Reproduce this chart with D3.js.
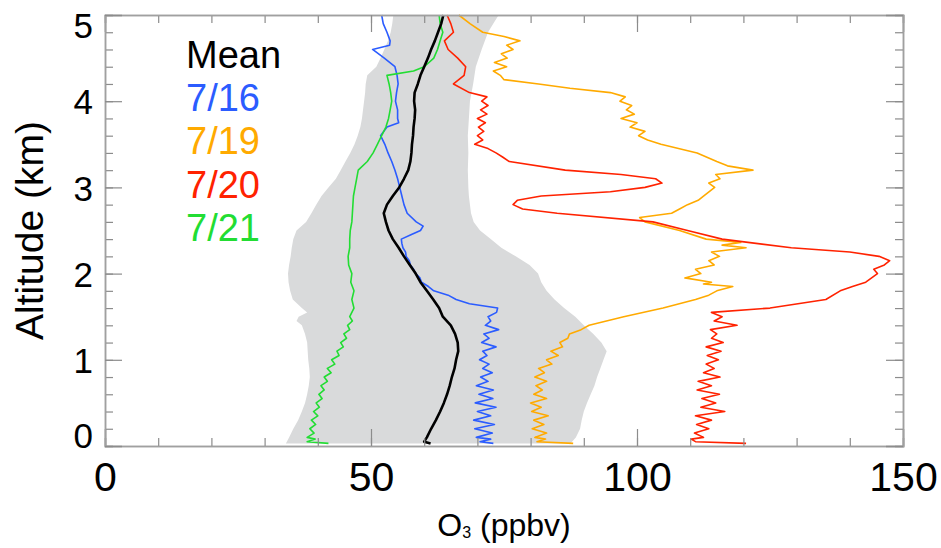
<!DOCTYPE html>
<html>
<head>
<meta charset="utf-8">
<title>O3 profiles</title>
<script src="https://cdnjs.cloudflare.com/ajax/libs/d3/7.8.5/d3.min.js"></script>
<style>
    body { margin: 0; background: #fff; }
    text { font-family: "Liberation Sans", Arial, Helvetica, sans-serif; }
    .frame path.domain { stroke: #a0a0a0; stroke-width: 1.5; }
    .frame .tick line { stroke: #8c8c8c; stroke-width: 1.2; }
</style>
</head>
<body>
<svg id="chart" width="941" height="548"></svg>
<script>
// ---- data: [altitude km, O3 ppbv] ----
var bandLow = [
    [0.03, 34.0], [0.1, 34.6], [0.2, 35.4], [0.3, 36.3], [0.4, 37.0], [0.5, 37.6], [0.6, 38.0],
    [0.7, 38.3], [0.8, 38.5], [0.9, 38.4], [1.0, 38.2], [1.1, 38.1], [1.2, 38.0], [1.3, 37.6],
    [1.4, 37.0], [1.45, 36.0], [1.5, 36.4], [1.55, 38.0], [1.6, 37.0], [1.7, 35.3], [1.8, 34.8],
    [1.9, 34.5], [2.0, 34.4], [2.1, 34.6], [2.2, 34.9], [2.3, 35.1], [2.4, 35.4], [2.5, 36.0],
    [2.6, 37.8], [2.7, 38.8], [2.8, 39.7], [2.9, 40.7], [3.0, 42.0], [3.1, 43.4], [3.2, 44.3],
    [3.3, 45.2], [3.4, 46.1], [3.5, 46.9], [3.6, 47.5], [3.7, 48.0], [3.8, 48.3], [3.9, 48.5],
    [4.0, 48.7], [4.1, 48.9], [4.2, 49.0], [4.3, 49.3], [4.4, 51.0], [4.5, 51.8], [4.6, 52.5],
    [4.7, 53.2], [4.8, 53.7], [4.9, 54.0], [5.0, 54.2]
];
var bandHigh = [
    [0.03, 87.5], [0.1, 88.5], [0.2, 89.3], [0.3, 89.6], [0.4, 90.0], [0.5, 90.6], [0.6, 91.3],
    [0.7, 92.0], [0.8, 92.5], [0.9, 93.1], [1.0, 93.7], [1.1, 94.3], [1.2, 93.3], [1.3, 91.8],
    [1.4, 90.0], [1.5, 88.4], [1.6, 86.3], [1.7, 84.5], [1.8, 83.0], [1.9, 82.0], [2.0, 81.4],
    [2.1, 79.8], [2.2, 77.2], [2.3, 74.5], [2.4, 72.5], [2.5, 70.5], [2.6, 69.3], [2.7, 68.8],
    [2.8, 68.6], [2.9, 68.4], [3.0, 68.3], [3.2, 68.2], [3.4, 68.3], [3.6, 68.2], [3.8, 68.4],
    [4.0, 68.6], [4.2, 69.2], [4.4, 69.7], [4.6, 70.8], [4.8, 72.0], [4.9, 73.0], [5.0, 74.0]
];
var mean = [
    [0.03, 61.2], [0.05, 60.0], [0.1, 60.5], [0.2, 61.3], [0.3, 62.2], [0.4, 63.0], [0.5, 63.7],
    [0.6, 64.3], [0.7, 64.8], [0.8, 65.2], [0.9, 65.7], [1.0, 66.0], [1.1, 66.4], [1.2, 66.3],
    [1.3, 65.8], [1.4, 65.0], [1.5, 63.5], [1.6, 62.8], [1.7, 61.7], [1.8, 60.5], [1.9, 59.3],
    [2.0, 58.4], [2.1, 57.3], [2.2, 56.2], [2.3, 55.2], [2.4, 54.1], [2.5, 53.3], [2.6, 52.8],
    [2.7, 52.4], [2.8, 53.0], [2.9, 54.1], [3.0, 55.3], [3.1, 56.2], [3.2, 57.0], [3.3, 57.4],
    [3.4, 57.6], [3.5, 57.7], [3.6, 57.9], [3.7, 58.0], [3.8, 58.2], [3.9, 58.3], [4.0, 58.1],
    [4.1, 58.2], [4.2, 58.8], [4.3, 59.3], [4.4, 60.0], [4.5, 60.7], [4.6, 61.3], [4.7, 62.0],
    [4.8, 62.6], [4.9, 63.2], [5.0, 63.6]
];
var jul16 = [
    [0.03, 73.0], [0.05, 70.5], [0.08, 72.5], [0.1, 69.8], [0.15, 72.8], [0.2, 69.5], [0.25, 73.2],
    [0.3, 69.3], [0.35, 72.5], [0.4, 70.0], [0.45, 73.5], [0.5, 69.6], [0.55, 72.9], [0.6, 70.3],
    [0.65, 73.0], [0.7, 69.8], [0.75, 72.0], [0.8, 70.6], [0.85, 72.8], [0.9, 71.0], [0.95, 72.2],
    [1.0, 70.4], [1.05, 71.8], [1.1, 71.0], [1.15, 73.5], [1.2, 70.8], [1.25, 72.2], [1.3, 71.2],
    [1.35, 74.0], [1.4, 71.5], [1.45, 72.5], [1.5, 72.0], [1.55, 73.6], [1.6, 73.8], [1.65, 68.5],
    [1.7, 66.0], [1.75, 64.5], [1.8, 61.8], [1.85, 60.8], [1.9, 59.5], [1.95, 59.2], [2.0, 58.4],
    [2.05, 58.0], [2.1, 57.4], [2.15, 57.2], [2.2, 56.6], [2.25, 56.5], [2.3, 56.0], [2.35, 55.8],
    [2.4, 55.7], [2.45, 57.5], [2.5, 59.3], [2.55, 59.8], [2.6, 58.5], [2.7, 56.8], [2.8, 56.2],
    [2.9, 55.8], [3.0, 55.4], [3.1, 55.0], [3.2, 54.5], [3.3, 53.9], [3.4, 53.2], [3.5, 52.6],
    [3.6, 51.8], [3.7, 53.0], [3.75, 55.2], [3.8, 55.0], [3.9, 55.0], [4.0, 54.6], [4.1, 54.8],
    [4.2, 55.1], [4.3, 54.9], [4.4, 54.5], [4.5, 52.5], [4.6, 50.3], [4.65, 53.5], [4.7, 53.6],
    [4.8, 53.0], [4.9, 52.3], [5.0, 52.0]
];
var jul19 = [
    [0.03, 88.0], [0.05, 81.2], [0.08, 82.8], [0.1, 80.8], [0.15, 83.0], [0.2, 80.3], [0.25, 82.5],
    [0.3, 80.6], [0.35, 83.3], [0.4, 80.2], [0.45, 82.0], [0.5, 80.0], [0.55, 83.0], [0.6, 80.6],
    [0.65, 82.2], [0.7, 81.0], [0.75, 83.0], [0.8, 80.8], [0.85, 82.6], [0.9, 81.5], [0.95, 84.0],
    [1.0, 83.0], [1.05, 85.2], [1.1, 83.8], [1.15, 86.0], [1.2, 85.5], [1.25, 87.0], [1.3, 87.3],
    [1.35, 89.5], [1.4, 91.0], [1.5, 97.5], [1.6, 104.9], [1.7, 111.0], [1.75, 113.5],
    [1.8, 115.0], [1.85, 118.0], [1.88, 112.5], [1.9, 114.0], [1.95, 109.0], [2.0, 112.0],
    [2.05, 111.0], [2.1, 114.5], [2.15, 113.5], [2.2, 115.5], [2.25, 114.0], [2.3, 120.5],
    [2.33, 116.0], [2.36, 119.5], [2.4, 113.0], [2.5, 108.0], [2.6, 101.5], [2.65, 100.5],
    [2.7, 106.5], [2.75, 108.0], [2.8, 109.5], [2.85, 111.5], [2.9, 112.5], [3.0, 114.6],
    [3.05, 113.5], [3.1, 115.6], [3.15, 114.8], [3.2, 121.8], [3.25, 117.0], [3.3, 115.0],
    [3.4, 111.3], [3.5, 104.5], [3.55, 102.0], [3.6, 100.3], [3.65, 101.5], [3.7, 98.7],
    [3.75, 100.0], [3.8, 97.0], [3.85, 99.5], [3.9, 98.0], [3.95, 99.0], [4.0, 96.8], [4.05, 97.8],
    [4.1, 95.0], [4.15, 87.4], [4.2, 81.5], [4.25, 75.0], [4.3, 74.3], [4.35, 73.0], [4.4, 75.5],
    [4.45, 73.2], [4.5, 75.6], [4.55, 74.5], [4.6, 76.7], [4.65, 75.5], [4.7, 78.0], [4.75, 75.0],
    [4.8, 71.0], [4.9, 68.6], [5.0, 66.5]
];
var jul20 = [
    [0.03, 120.5], [0.05, 111.0], [0.08, 110.2], [0.1, 112.5], [0.15, 110.8], [0.2, 113.5],
    [0.25, 111.2], [0.3, 114.0], [0.35, 111.0], [0.4, 116.5], [0.45, 112.0], [0.5, 114.8],
    [0.55, 112.2], [0.6, 115.5], [0.65, 111.3], [0.7, 114.0], [0.75, 111.5], [0.8, 115.6],
    [0.85, 112.5], [0.9, 114.5], [0.95, 113.0], [1.0, 115.3], [1.05, 113.2], [1.1, 115.8],
    [1.15, 113.0], [1.2, 116.2], [1.25, 114.0], [1.3, 115.0], [1.35, 113.8], [1.4, 118.8],
    [1.45, 114.5], [1.5, 116.0], [1.55, 114.0], [1.6, 125.0], [1.7, 135.5], [1.8, 138.2],
    [1.85, 140.5], [1.9, 143.0], [2.0, 145.2], [2.05, 144.5], [2.1, 146.5], [2.15, 147.5],
    [2.2, 145.5], [2.25, 140.0], [2.3, 129.0], [2.4, 116.0], [2.5, 109.5], [2.6, 103.0],
    [2.7, 85.0], [2.75, 78.5], [2.8, 76.7], [2.85, 77.5], [2.9, 82.0], [2.95, 95.0], [3.0, 101.5],
    [3.05, 104.7], [3.1, 103.5], [3.15, 97.0], [3.2, 86.5], [3.3, 76.0], [3.35, 74.8], [3.4, 73.5],
    [3.45, 72.0], [3.5, 69.5], [3.55, 71.0], [3.6, 70.0], [3.65, 71.2], [3.7, 70.2], [3.75, 71.5],
    [3.8, 70.0], [3.85, 71.8], [3.9, 70.6], [3.95, 72.0], [4.0, 70.8], [4.05, 71.8], [4.1, 68.5],
    [4.2, 65.5], [4.3, 67.5], [4.4, 67.8], [4.5, 66.3], [4.6, 64.5], [4.7, 63.8], [4.8, 65.5],
    [4.9, 65.0], [5.0, 64.3]
];
var jul21 = [
    [0.03, 42.0], [0.05, 38.0], [0.08, 39.5], [0.1, 38.0], [0.15, 39.3], [0.2, 38.5], [0.25, 39.6],
    [0.3, 38.8], [0.35, 40.0], [0.4, 39.2], [0.45, 40.3], [0.5, 39.7], [0.55, 40.8], [0.6, 40.2],
    [0.65, 41.2], [0.7, 40.6], [0.75, 41.8], [0.8, 41.2], [0.85, 42.5], [0.9, 41.8], [0.95, 43.2],
    [1.0, 42.6], [1.05, 44.0], [1.1, 43.6], [1.15, 44.8], [1.2, 44.3], [1.25, 45.4], [1.3, 44.9],
    [1.35, 46.0], [1.4, 45.6], [1.45, 46.5], [1.5, 46.0], [1.6, 46.8], [1.7, 46.4], [1.8, 46.8],
    [1.9, 46.2], [2.0, 46.4], [2.1, 45.8], [2.2, 45.7], [2.3, 46.0], [2.4, 46.0], [2.5, 46.1],
    [2.6, 46.4], [2.7, 46.5], [2.8, 46.6], [2.9, 46.7], [3.0, 47.0], [3.1, 47.3], [3.2, 47.6],
    [3.3, 49.3], [3.4, 50.4], [3.5, 51.2], [3.6, 52.0], [3.7, 52.8], [3.8, 53.3], [3.9, 53.6],
    [4.0, 53.9], [4.1, 53.7], [4.2, 53.4], [4.3, 53.0], [4.35, 58.0], [4.4, 60.0], [4.5, 61.8],
    [4.6, 62.5], [4.7, 63.0], [4.8, 63.5], [4.9, 63.0], [5.0, 62.8]
];

var seriesNames = ["Mean", "7/16", "7/19", "7/20", "7/21"];
var seriesColors = ["#000000", "#2b5cff", "#ffaa00", "#ff2200", "#22dd33"];
var seriesData = [mean, jul16, jul19, jul20, jul21];
var xMajor = [0, 50, 100, 150];
var yMajor = [0, 1, 2, 3, 4, 5];

var svg = d3.select("#chart"),
    margin = {top: 15, right: 38, bottom: 102, left: 105},
    width = +svg.attr("width") - margin.left - margin.right,
    height = +svg.attr("height") - margin.top - margin.bottom;

var g = svg.append("g").attr("transform", "translate(" + margin.left + "," + margin.top + ")");

var x = d3.scaleLinear().domain([0, 150]).range([0, width]);
var y = d3.scaleLinear().domain([0, 5]).range([height, 0]);

// grey envelope: left edge going up, right edge coming back down
var envelope = bandLow.map(function(d) { return [d[1], d[0]]; })
    .concat(bandHigh.slice().reverse().map(function(d) { return [d[1], d[0]]; }));

g.append("path")
    .datum(envelope)
    .attr("fill", "#d9dadb")
    .attr("d", d3.line()
        .x(function(d) { return x(d[0]); })
        .y(function(d) { return y(d[1]); }));

var line = d3.line()
    .x(function(d) { return x(d[1]); })
    .y(function(d) { return y(d[0]); });

// coloured profiles first, mean on top
[1, 4, 2, 3, 0].forEach(function(i) {
    g.append("path")
        .datum(seriesData[i])
        .attr("fill", "none")
        .attr("stroke", seriesColors[i])
        .attr("stroke-width", i === 0 ? 2.6 : 1.6)
        .attr("stroke-linejoin", "round")
        .attr("d", line);
});

// axes with inward ticks on all four sides
function addAxis(axisFn, scale, major, minorStep, transform, showLabels) {
    var minor = d3.range(scale.domain()[0], scale.domain()[1] + 1e-9, minorStep);
    g.append("g").attr("class", "frame")
        .attr("transform", transform)
        .call(axisFn(scale).tickValues(minor).tickSize(-8).tickFormat(""));
    return g.append("g").attr("class", "frame")
        .attr("transform", transform)
        .call(axisFn(scale).tickValues(major).tickSize(-17).tickPadding(showLabels ? 12 : 0)
            .tickFormat(showLabels ? d3.format("d") : ""));
}

var bottom = addAxis(d3.axisBottom, x, xMajor, 10, "translate(0," + height + ")", true);
bottom.selectAll("text").attr("font-size", 41).attr("fill", "#000").attr("dy", "0.8em");
addAxis(d3.axisTop, x, xMajor, 10, "translate(0,0)", false);
var left = addAxis(d3.axisLeft, y, yMajor, 0.2, "translate(0,0)", true);
// keep end labels inside the frame height, like the original
left.selectAll("text")
    .attr("font-size", 35).attr("fill", "#000").attr("dy", "0.36em")
    .attr("y", function(d) { return Math.max(10, Math.min(height - 11, y(d))) - y(d); });
addAxis(d3.axisRight, y, yMajor, 0.2, "translate(" + width + ",0)", false);
g.selectAll(".frame .tick text").filter(function() { return this.textContent === ""; }).remove();

// axis titles
svg.append("text")
    .attr("transform", "translate(43," + (margin.top + height / 2) + ") rotate(-90)")
    .attr("text-anchor", "middle")
    .attr("font-size", 39)
    .text("Altitude (km)");

var xt = svg.append("text")
    .attr("x", margin.left + x(75))
    .attr("y", 536)
    .attr("text-anchor", "middle")
    .attr("font-size", 32);
xt.append("tspan").text("O");
xt.append("tspan").attr("font-size", 16).attr("dy", 2).text("3");
xt.append("tspan").attr("dy", -2).text(" (ppbv)");

// legend
g.selectAll(".legend")
    .data(seriesNames)
    .enter().append("text")
    .attr("class", "legend")
    .attr("x", 81)
    .attr("y", function(d, i) { return 53 + i * 43.2; })
    .attr("font-size", 38)
    .attr("fill", function(d, i) { return seriesColors[i]; })
    .text(function(d) { return d; });
</script>
</body>
</html>
